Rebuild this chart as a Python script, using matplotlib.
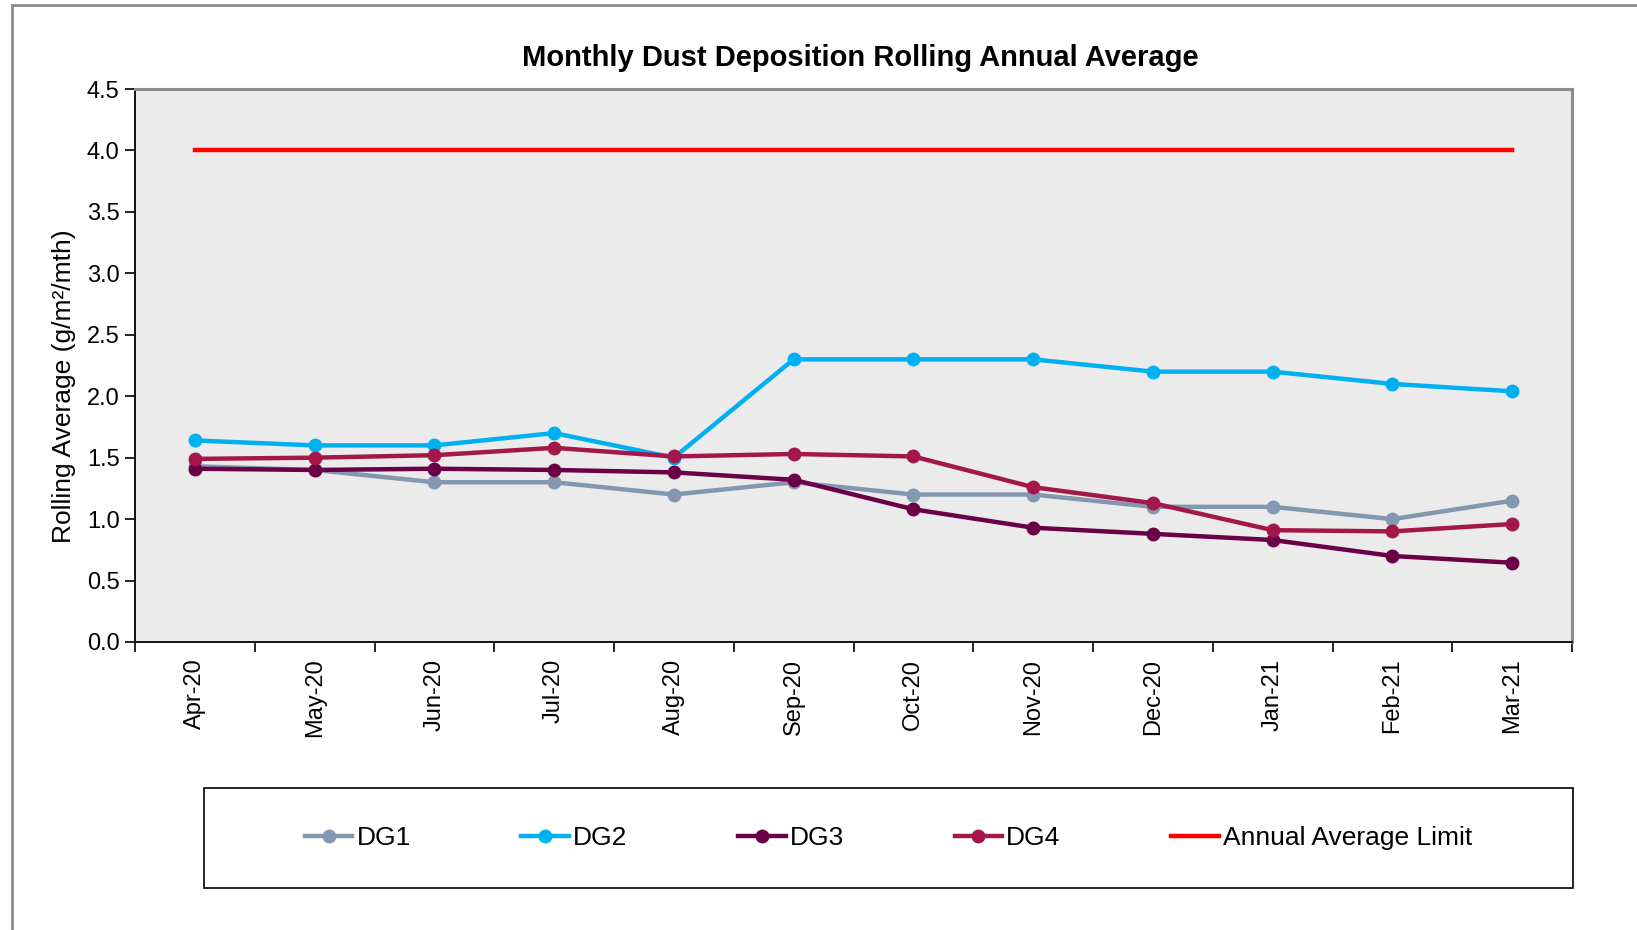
import matplotlib
matplotlib.use("Agg")
import matplotlib.pyplot as plt
from matplotlib.patches import Rectangle
import numpy as np

months = ["Apr-20", "May-20", "Jun-20", "Jul-20", "Aug-20", "Sep-20",
          "Oct-20", "Nov-20", "Dec-20", "Jan-21", "Feb-21", "Mar-21"]
dg1 = [1.43, 1.40, 1.30, 1.30, 1.20, 1.30, 1.20, 1.20, 1.10, 1.10, 1.00, 1.15]
dg2 = [1.64, 1.60, 1.60, 1.70, 1.50, 2.30, 2.30, 2.30, 2.20, 2.20, 2.10, 2.04]
dg3 = [1.41, 1.40, 1.41, 1.40, 1.38, 1.32, 1.08, 0.93, 0.88, 0.83, 0.70, 0.645]
dg4 = [1.49, 1.50, 1.52, 1.58, 1.51, 1.53, 1.51, 1.26, 1.13, 0.91, 0.90, 0.96]
limit = [4.0] * 12

series_names = ["DG1", "DG2", "DG3", "DG4"]
colors = ["#8497B0", "#00B0F0", "#6A0045", "#A3174A"]

narrow = ["Liberation Sans Narrow", "Liberation Sans", "DejaVu Sans"]
regular = ["Liberation Sans", "DejaVu Sans"]

W, H = 1637, 930
fig = plt.figure(figsize=(W / 100, H / 100), dpi=100)
fig.patch.set_facecolor("white")

# outer gray frame
fig.add_artist(Rectangle((12 / W, -0.1), 1.2, 1 - 5 / H + 0.1, transform=fig.transFigure,
                         fill=False, edgecolor="#8c8c8c", linewidth=2.0))

ax = fig.add_axes([135 / W, 1 - 642 / H, (1572 - 135) / W, (642 - 89) / H])
ax.set_facecolor("#EBEBEB")

x = np.arange(len(months))
for name, vals, c in zip(series_names, [dg1, dg2, dg3, dg4], colors):
    ax.plot(x, vals, color=c, lw=3.2, marker="o", ms=9, label=name, zorder=3)
ax.plot(x, limit, color="#FF0000", lw=3.2, label="Annual Average Limit", zorder=3)

ax.set_xlim(-0.5, len(months) - 0.5)
ax.set_ylim(0, 4.5)
ax.set_yticks(np.arange(0, 4.51, 0.5))
ax.set_yticklabels([f"{v:.1f}" for v in np.arange(0, 4.51, 0.5)], family=narrow, fontsize=17)
ax.set_xticks(np.arange(-0.5, len(months), 1.0))
ax.set_xticklabels([])
ax.set_xticks(x, minor=True)
ax.set_xticklabels(months, minor=True, rotation=90, family=narrow, fontsize=17)
ax.tick_params(axis="x", which="minor", length=0, pad=12)
ax.tick_params(axis="x", which="major", length=7, width=1.2, direction="out", color="black")
ax.tick_params(axis="y", length=7, width=1.2, direction="out", color="black", pad=4)

for s in ["left", "bottom"]:
    ax.spines[s].set_color("black")
    ax.spines[s].set_linewidth(1.3)
for s in ["top", "right"]:
    ax.spines[s].set_color("#8c8c8c")
    ax.spines[s].set_linewidth(2.2)

ax.set_ylabel("Rolling Average (g/m²/mth)", family=regular, fontsize=19)
ax.yaxis.set_label_coords(-0.041, 0.462)

fig.text(860 / W, 1 - 58 / H, "Monthly Dust Deposition Rolling Annual Average",
         ha="center", va="center", family=regular, fontweight="bold", fontsize=21)

# legend box
fig.add_artist(Rectangle((204 / W, 1 - 888 / H), (1573 - 204) / W, (888 - 788) / H,
                         transform=fig.transFigure, fill=False, edgecolor="black",
                         linewidth=1.2))

handles, labels = ax.get_legend_handles_labels()
leg = fig.legend(handles, labels, loc="center",
                 bbox_to_anchor=(((300 + 1402) / 2) * (W / 1568) / W, 1 - 838 / H),
                 ncol=5, frameon=False, prop={"family": narrow, "size": 19},
                 handlelength=1.8, handletextpad=0.15, columnspacing=4.2)

fig.savefig("out.png", dpi=100)
